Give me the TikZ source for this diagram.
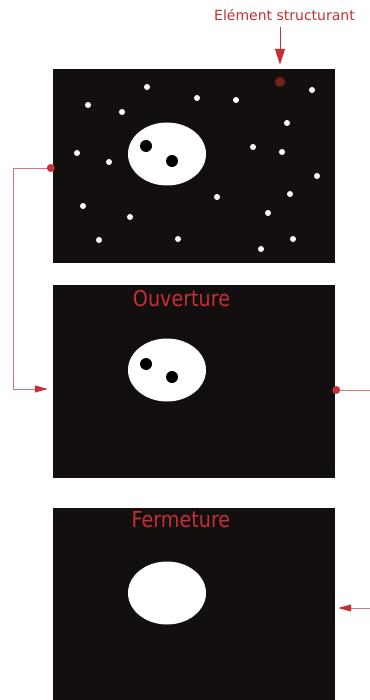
\documentclass[tikz,border=0pt]{standalone}
\usepackage{fontspec}
\setmainfont{DejaVu Sans}
\newfontfamily\opfont{DejaVu Sans}[FakeStretch=0.87]
\usetikzlibrary{arrows.meta,positioning,shapes.geometric,calc}
\definecolor{panelblack}{RGB}{20,15,15}
\definecolor{labelred}{RGB}{196,48,54}
\definecolor{linkpink}{RGB}{214,118,122}
\definecolor{sebrown}{RGB}{112,34,28}

\tikzset{
  panel/.style={draw=none,fill=panelblack,minimum width=282pt,minimum height=194pt,inner sep=0pt},
  blob/.style={ellipse,fill=white,minimum width=78pt,minimum height=63pt,inner sep=0pt},
  hole/.style={circle,fill=black,minimum size=12pt,inner sep=0pt},
  speck/.style={circle,fill=white,minimum size=6pt,inner sep=0pt},
  jointdot/.style={circle,fill=labelred,minimum size=8pt,inner sep=0pt},
  opname/.style={text=labelred,font=\opfont\fontsize{22}{24}\selectfont,inner sep=0pt},
  link/.style={draw=linkpink,line width=0.8pt,-{Triangle[length=13pt,width=7pt,fill=labelred,color=labelred]}}
}

\begin{document}
\begin{tikzpicture}[x=1pt,y=-1pt]
  \useasboundingbox (0,0) rectangle (369,700);

  % image de depart
  \node[panel] (orig) at (194,166) {};
  \node[blob] (blobA) at (167,154) {};
  \node[hole] (holeA1) at (146,146) {};
  \node[hole] (holeA2) at (172,161) {};
  \foreach \px/\py [count=\i] in {147/87,312/90,88/105,197/98,236/100,122/112,287/123,
      77/153,109/162,253/147,282/152,317/176,217/197,290/194,83/206,130/217,
      268/213,99/240,178/239,293/239,261/249}
    \node[speck] (s\i) at (\px,\py) {};
  \node[circle,fill=sebrown,minimum size=10pt,inner sep=0pt] (sedot) at (280,82) {};
  \node[text=labelred,font=\fontsize{14}{16}\selectfont,inner sep=0pt] (selabel) at (284.5,15) {Elément structurant};
  \draw[link,draw=labelred,-{Triangle[length=16pt,width=10pt]}] (selabel.south -| sedot) ++(0,6) -- ([yshift=4pt]orig.north -| sedot);

  % ouverture
  \node[panel,minimum height=193pt] (ouv) at (194,381.5) {};
  \node[opname] (ouvtitle) at (181.5,298) {Ouverture};
  \node[blob] (blobB) at (167,370) {};
  \node[hole] (holeB1) at (146,364) {};
  \node[hole] (holeB2) at (172,377) {};

  % fermeture
  \node[panel] (ferm) at (194,605) {};
  \node[opname] (fermtitle) at (181,520) {Fermeture};
  \node[blob] (blobC) at (167,593) {};

  % liaisons
  \node[jointdot] (jA) at ([xshift=-2pt,yshift=-2pt]orig.west) {};
  \draw[link] (jA) -- (13,168) |- ([xshift=-5pt,yshift=-7.5pt]ouv.west);
  \node[jointdot] (jB) at ([xshift=1pt,yshift=-8.5pt]ouv.east) {};
  \draw[link] (jB) -- (372,390) |- ([xshift=3pt,yshift=-3pt]ferm.east);
\end{tikzpicture}
\end{document}
